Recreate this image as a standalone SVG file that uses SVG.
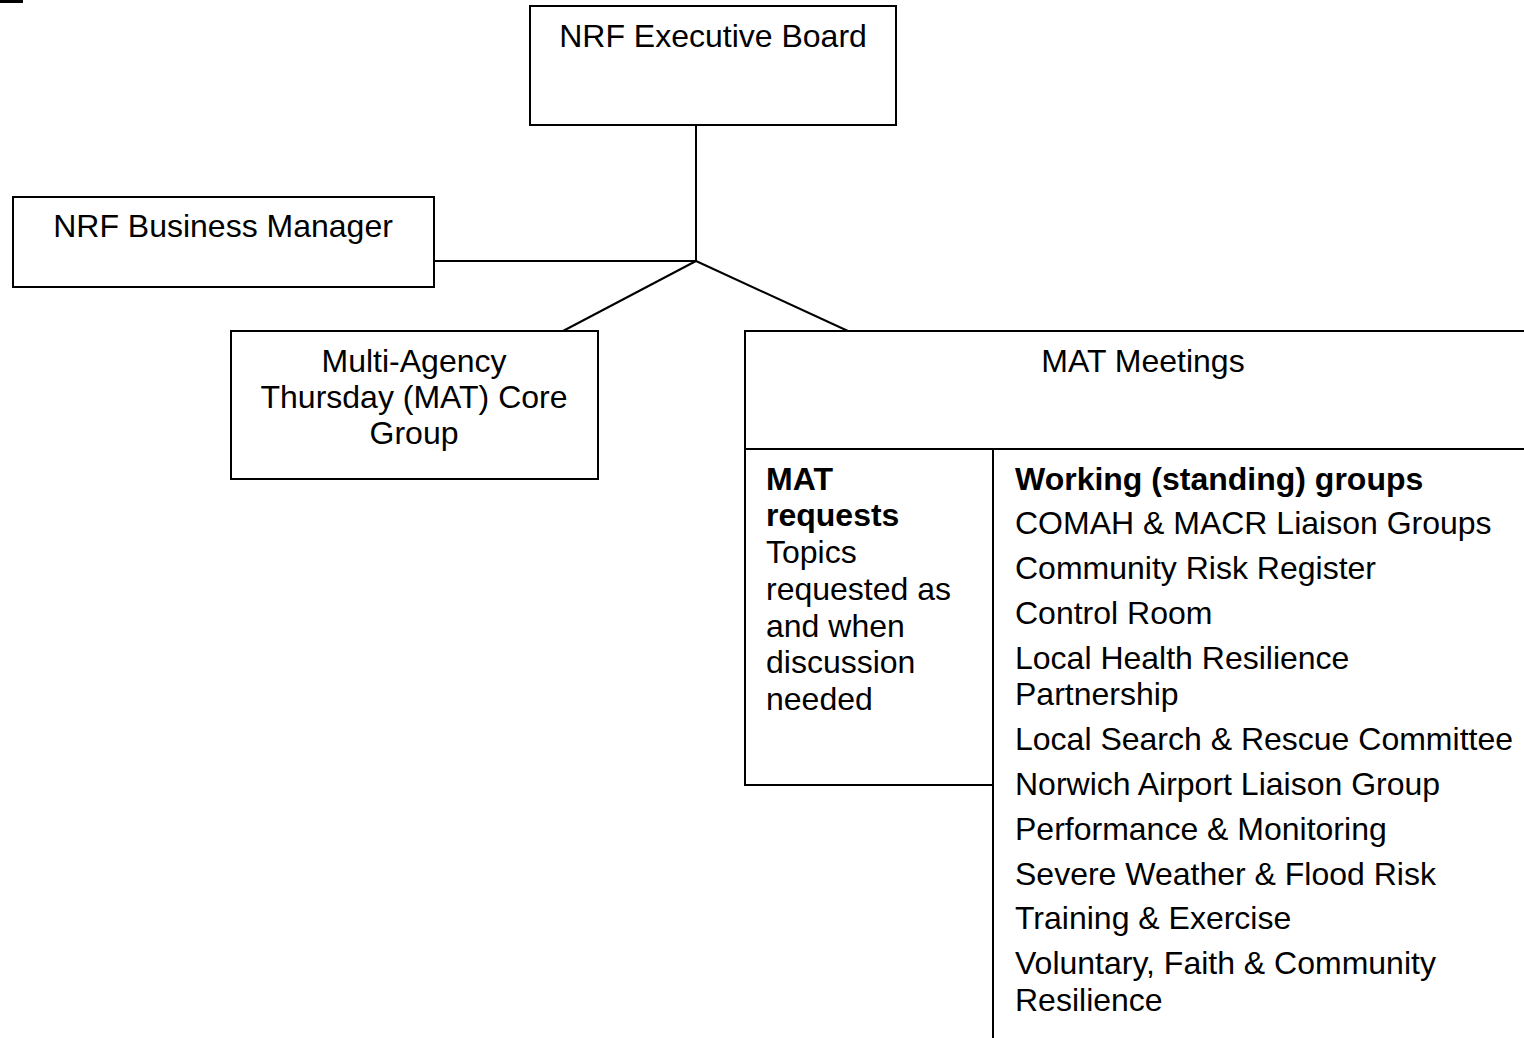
<svg xmlns="http://www.w3.org/2000/svg" width="1524" height="1038" viewBox="0 0 1524 1038">
<style>
.box{fill:#fff;stroke:#000;stroke-width:2}
.ln{fill:none;stroke:#000;stroke-width:2}
text{font-family:"Liberation Sans",Arial,sans-serif;font-size:32px;fill:#000}
.c{text-anchor:middle}
.b{font-weight:bold}
</style>
<rect x="0" y="0" width="23" height="3" fill="#000"/>
<g id="connectors">
<line class="ln" x1="696" y1="125" x2="696" y2="261"/>
<line class="ln" x1="434" y1="261" x2="696" y2="261"/>
<line class="ln" x1="696" y1="261" x2="563" y2="331"/>
<line class="ln" x1="696" y1="261" x2="848" y2="331"/>
</g>
<g id="exec-board">
<rect class="box" x="530" y="6" width="366" height="119"/>
<text class="c" x="713" y="47">NRF Executive Board</text>
</g>
<g id="business-manager">
<rect class="box" x="13" y="197" width="421" height="90"/>
<text class="c" x="223" y="237">NRF Business Manager</text>
</g>
<g id="mat-core">
<rect class="box" x="231" y="331" width="367" height="148"/>
<text class="c" x="414" y="372">Multi-Agency</text>
<text class="c" x="414" y="408">Thursday (MAT) Core</text>
<text class="c" x="414" y="444">Group</text>
</g>
<g id="mat-meetings">
<path class="ln" d="M1525,331 H745 V449 H1525"/>
<text class="c" x="1143" y="372">MAT Meetings</text>
</g>
<g id="mat-requests">
<path class="ln" d="M745,449 V785 H993"/>
<text class="b" x="766" y="490">MAT</text>
<text class="b" x="766" y="526">requests</text>
<text x="766" y="563">Topics</text>
<text x="766" y="600">requested as</text>
<text x="766" y="637">and when</text>
<text x="766" y="673">discussion</text>
<text x="766" y="710">needed</text>
</g>
<g id="working-groups">
<line class="ln" x1="993" y1="449" x2="993" y2="1038"/>
<text class="b" x="1015" y="490">Working (standing) groups</text>
<text x="1015" y="534">COMAH &amp; MACR Liaison Groups</text>
<text x="1015" y="579">Community Risk Register</text>
<text x="1015" y="624">Control Room</text>
<text x="1015" y="669">Local Health Resilience</text>
<text x="1015" y="705">Partnership</text>
<text x="1015" y="750">Local Search &amp; Rescue Committee</text>
<text x="1015" y="795">Norwich Airport Liaison Group</text>
<text x="1015" y="840">Performance &amp; Monitoring</text>
<text x="1015" y="885">Severe Weather &amp; Flood Risk</text>
<text x="1015" y="929">Training &amp; Exercise</text>
<text x="1015" y="974">Voluntary, Faith &amp; Community</text>
<text x="1015" y="1011">Resilience</text>
</g>
</svg>
